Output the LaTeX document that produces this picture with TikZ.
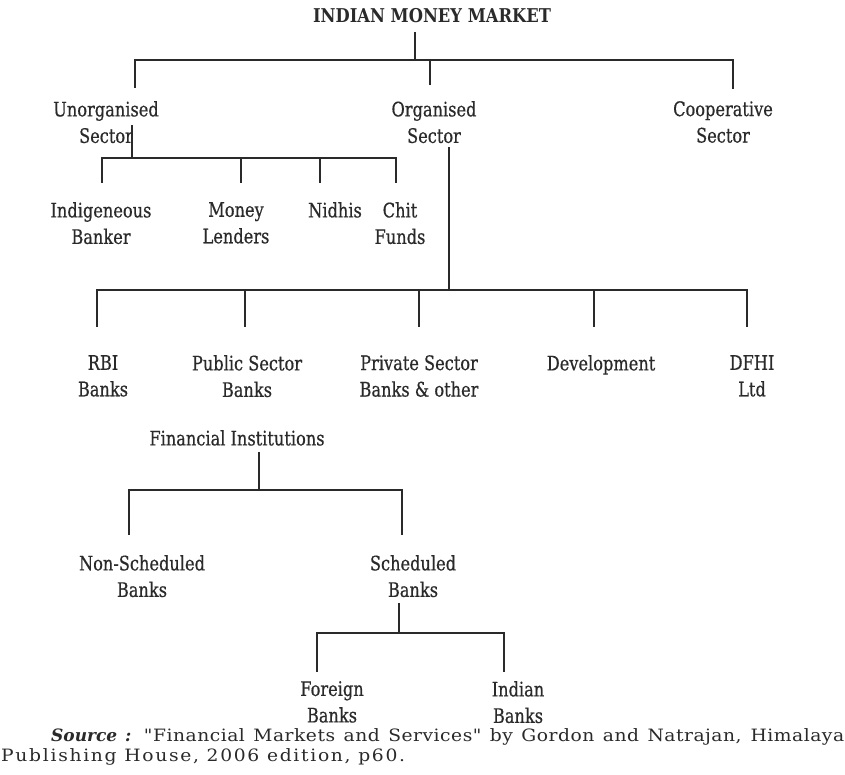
\documentclass[tikz,border=0pt]{standalone}
\usepackage{fontspec}
\setmainfont{DejaVu Serif}
\newfontfamily\labelfont{DejaVu Serif}[FakeStretch=0.81, FakeBold=0.5]
\newfontfamily\titlefont{DejaVu Serif}[FakeStretch=0.86]
\newfontfamily\srcfont{DejaVu Serif}[FakeStretch=1.1, LetterSpace=3, Ligatures=TeXOff]
\newfontfamily\srcwidefont{DejaVu Serif}[FakeStretch=1.1, LetterSpace=10, Ligatures=TeXOff]
\definecolor{ink}{HTML}{2A2A2A}
\begin{document}
\begin{tikzpicture}[x=1pt,y=-1pt,
  lbl/.style={text=ink, font=\labelfont\fontsize{20}{26.5}\selectfont, align=center, inner sep=0pt, anchor=north},
  head/.style={text=ink, font=\titlefont\fontsize{19}{22}\selectfont\bfseries, inner sep=0pt, anchor=north},
  note/.style={text=ink, font=\srcfont\fontsize{17}{20}\selectfont, inner sep=0pt, anchor=base west},
  link/.style={draw=ink, line width=1.3pt},
  bus/.style={draw=ink, line width=2.1pt, line cap=rect}]
\fill[white] (0,0) rectangle (845,775);
\useasboundingbox (0,0) rectangle (845,775);

% ---- labels ----
\node[head] (title) at (432,8) {INDIAN MONEY MARKET};

\node[lbl] (unorg) at (106,101) {Unorganised\\Sector};
\node[lbl] (org)   at (434,101) {Organised\\Sector};
\node[lbl] (coop)  at (723,101) {Cooperative\\Sector};

\node[lbl] (indig)  at (101,202) {Indigeneous\\Banker};
\node[lbl] (money)  at (236,202) {Money\\Lenders};
\node[lbl] (nidhis) at (335,202) {Nidhis};
\node[lbl] (chit)   at (400,202) {Chit\\Funds};

\node[lbl] (rbi)     at (103,355) {RBI\\Banks};
\node[lbl] (public)  at (247,355) {Public Sector\\Banks};
\node[lbl] (private) at (419,355) {Private Sector\\Banks \& other};
\node[lbl] (devel)   at (601,355) {Development};
\node[lbl] (dfhi)    at (752,355) {DFHI\\Ltd};

\node[lbl] (finst) at (237,430) {Financial Institutions};

\node[lbl] (nonsch) at (142,555) {Non-Scheduled\\Banks};
\node[lbl] (sched)  at (413,555) {Scheduled\\Banks};

\node[lbl] (foreign) at (332,681) {Foreign\\Banks};
\node[lbl] (indian)  at (518,681) {Indian\\Banks};

\node[note] (src1) at (51,741) {\makebox[793pt][s]{{\rmfamily\fontsize{17}{20}\selectfont\bfseries\itshape Source :} "Financial Markets and Services" by Gordon and Natrajan, Himalaya}};
\node[note, font=\srcwidefont\fontsize{17}{20}\selectfont] (src2) at (1,761) {Publishing House, 2006 edition, p60.};

% ---- tree: money market -> sectors ----
\coordinate (aL) at (135,60);  \coordinate (aR) at (733,60);
\coordinate (aS) at (415,60);
\coordinate (a1) at (135,88);  \coordinate (a2) at (430,85); \coordinate (a3) at (733,89);
\draw[link] (aS |- title.south) ++(0,9) -- (aS);
\draw[bus] (aL) -- (aR);
\foreach \f in {a1,a2,a3} \draw[link] (\f |- aL) -- (\f);

% ---- tree: unorganised sector ----
\coordinate (bT) at (132,125); \coordinate (bL) at (102,158); \coordinate (bR) at (396,158);
\coordinate (b1) at (102,183); \coordinate (b2) at (241,183);
\coordinate (b3) at (320,183); \coordinate (b4) at (396,183);
\draw[link] (bT) -- (bT |- bL);
\draw[bus] (bL) -- (bR);
\foreach \f in {b1,b2,b3,b4} \draw[link] (\f |- bL) -- (\f);

% ---- tree: organised sector ----
\coordinate (cT) at (449,147); \coordinate (cL) at (97,290); \coordinate (cR) at (747,290);
\coordinate (c1) at (97,327);  \coordinate (c2) at (245,327); \coordinate (c3) at (419,327);
\coordinate (c4) at (594,327); \coordinate (c5) at (747,327);
\draw[link] (cT) -- (cT |- cL);
\draw[bus] (cL) -- (cR);
\foreach \f in {c1,c2,c3,c4,c5} \draw[link] (\f |- cL) -- (\f);

% ---- tree: financial institutions ----
\coordinate (dS) at (259,490); \coordinate (dL) at (129,490); \coordinate (dR) at (402,490);
\coordinate (d1) at (129,535); \coordinate (d2) at (402,535);
\draw[link] (dS |- finst.south) ++(0,6) -- (dS);
\draw[bus] (dL) -- (dR);
\foreach \f in {d1,d2} \draw[link] (\f |- dL) -- (\f);

% ---- tree: scheduled banks ----
\coordinate (eS) at (399,633); \coordinate (eL) at (317,633); \coordinate (eR) at (504,633);
\coordinate (e1) at (317,672); \coordinate (e2) at (504,672);
\draw[link] (eS |- sched.south) ++(0,6) -- (eS);
\draw[bus] (eL) -- (eR);
\foreach \f in {e1,e2} \draw[link] (\f |- eL) -- (\f);
\end{tikzpicture}
\end{document}
